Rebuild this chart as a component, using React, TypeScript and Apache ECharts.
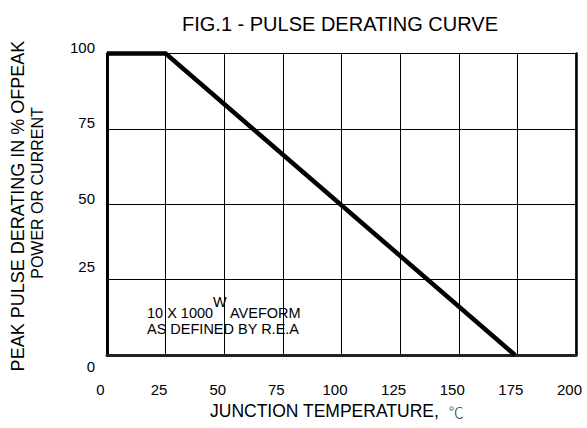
import React, { useEffect, useRef } from "react";
import * as echarts from "echarts";

const temperature = [0, 25, 174];
const derating = [100, 100, 0];
const xRange = [0, 200];
const yRange = [0, 100];
const tickStep = 25;
const titleText = "FIG.1 - PULSE DERATING CURVE";
const xName = "JUNCTION TEMPERATURE,";
const xUnit = "℃";
const yNameLine1 = "PEAK PULSE DERATING IN % OFPEAK";
const yNameLine2 = "POWER OR CURRENT";
const noteLine1a = "10 X 1000";
const noteLine1b = "W";
const noteLine1c = "AVEFORM";
const noteLine2 = "AS DEFINED BY R.E.A";

const FONT = "Liberation Sans, Arial, sans-serif";

export default function App() {
  const ref = useRef<HTMLDivElement>(null);
  useEffect(() => {
    if (!ref.current) return;
    const chart = echarts.init(ref.current, undefined, { renderer: "svg" });
    const txt = (text: string, x: number, y: number, size: number, extra: any = {}) => ({
      type: "text",
      x,
      y,
      z: 1,
      ...extra,
      style: {
        text,
        fontSize: size,
        fontFamily: FONT,
        fill: "#000",
        align: extra.align || "left",
        textAlign: extra.align || "left",
        verticalAlign: "middle",
        textVerticalAlign: "middle",
        ...(extra.style || {}),
      },
    });
    chart.setOption({
      animation: false,
      textStyle: { fontFamily: FONT, color: "#000" },
      title: {
        text: titleText,
        left: 177,
        top: 9,
        textStyle: { fontSize: 20, fontWeight: "normal", color: "#000", fontFamily: FONT },
      },
      grid: {
        left: 107,
        right: 11,
        top: 53.5,
        bottom: 73,
        show: true,
        borderColor: "#000",
        borderWidth: 1,
        backgroundColor: "transparent",
      },
      xAxis: {
        type: "value",
        min: xRange[0],
        max: xRange[1],
        interval: tickStep,
        axisLine: { show: true, onZero: false, lineStyle: { color: "#222", width: 3 } },
        axisTick: { show: false },
        splitLine: { show: true, lineStyle: { color: "#000", width: 1 } },
        axisLabel: {
          margin: 27,
          fontSize: 15,
          color: "#000",
          fontFamily: FONT,
          padding: [0, 13, 0, 0],
        },
      },
      yAxis: [
        {
          type: "value",
          min: yRange[0],
          max: yRange[1],
          interval: tickStep,
          axisLine: { show: true, onZero: false, lineStyle: { color: "#000", width: 3 } },
          axisTick: { show: false },
          splitLine: { show: true, lineStyle: { color: "#000", width: 1 } },
          axisLabel: {
            margin: 12,
            fontSize: 15,
            color: "#000",
            fontFamily: FONT,
            formatter: (v: number) =>
              v === 0 ? `{c|${v}}` : v === 25 ? `{b|${v}}` : `{a|${v}}`,
            rich: {
              a: { fontSize: 15, fontFamily: FONT, color: "#000", padding: [0, 0, 12, 0] },
              b: { fontSize: 15, fontFamily: FONT, color: "#000", padding: [0, 0, 26, 0] },
              c: { fontSize: 15, fontFamily: FONT, color: "#000", padding: [22, 0, 0, 0] },
            },
          },
        },
        {
          type: "value",
          position: "right",
          min: yRange[0],
          max: yRange[1],
          interval: tickStep,
          axisLine: { show: true, onZero: false, lineStyle: { color: "#000", width: 2.5 } },
          axisTick: { show: false },
          splitLine: { show: false },
          axisLabel: { show: false },
        },
      ],
      graphic: {
        elements: [
          txt(yNameLine1, 18, 206, 18, { rotation: Math.PI / 2, align: "center" }),
          txt(yNameLine2, 37, 193, 16, { rotation: Math.PI / 2, align: "center" }),
          {
            type: "text",
            x: 210,
            y: 411,
            style: {
              text: `{a|${xName}}  {b|${xUnit}}`,
              fontSize: 17.5,
              fontFamily: FONT,
              fill: "#000",
              verticalAlign: "middle",
              textVerticalAlign: "middle",
              rich: {
                a: { fontSize: 17.5, fontFamily: FONT, fill: "#000", color: "#000" },
                b: {
                  fontSize: 15,
                  fontFamily: "Noto Sans CJK SC",
                  fontWeight: 300,
                  fill: "#333",
                  color: "#333",
                },
              },
            },
          },
          txt(noteLine1a, 147, 313, 14.5),
          txt(noteLine1b, 213, 302, 14.5),
          txt(noteLine1c, 230, 313, 14.5),
          txt(noteLine2, 147, 328.5, 14.5),
        ],
      },
      series: [
        {
          type: "line",
          data: temperature.map((t, i) => [t, derating[i]]),
          symbol: "none",
          clip: false,
          z: 5,
          lineStyle: { color: "#000", width: 4.5, join: "miter", cap: "butt" },
        },
      ],
    });
    return () => chart.dispose();
  }, []);
  return (
    <div
      ref={ref}
      style={{ position: "absolute", left: 0, top: 0, width: 587, height: 428, background: "#fff" }}
    />
  );
}
